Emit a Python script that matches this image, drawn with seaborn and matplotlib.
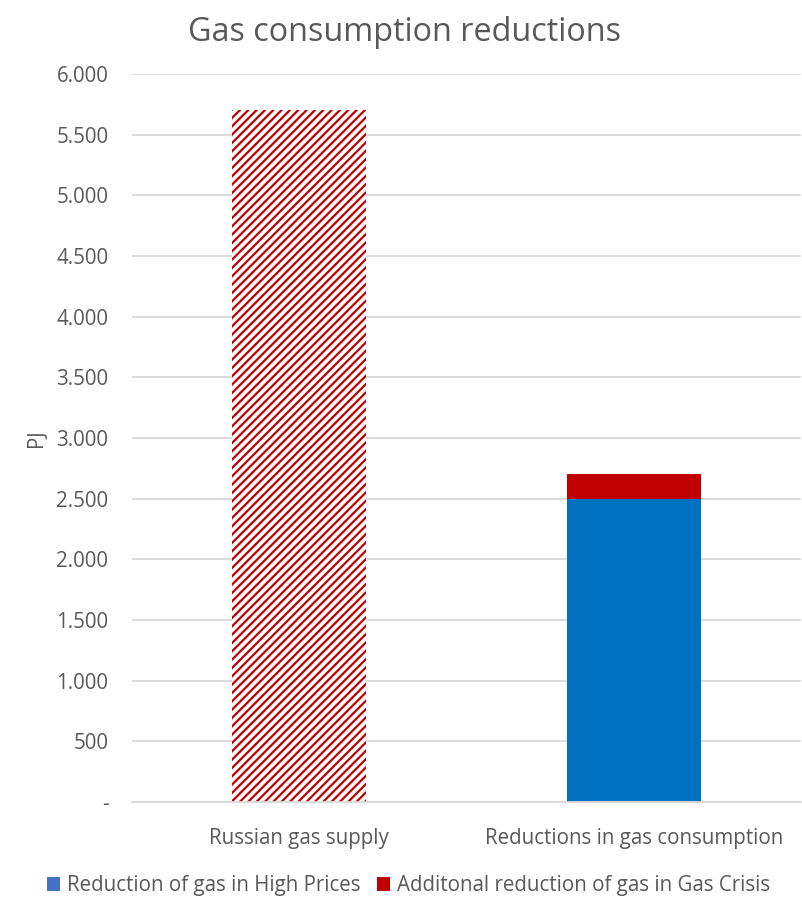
import matplotlib
matplotlib.use("Agg")
import matplotlib.pyplot as plt
from matplotlib.ticker import FuncFormatter
from matplotlib.patches import Patch
import seaborn as sns
import pandas as pd

categories = ["Russian gas supply", "Reductions in gas consumption"]
russian_supply = [5700, 0]
high_prices = [0, 2500]
gas_crisis = [0, 200]
legend_labels = ["Reduction of gas in High Prices",
                 "Additonal reduction of gas in Gas Crisis"]

BLUE = "#0070C0"
LEGEND_BLUE = "#4472C4"
RED = "#C00000"
TEXT = "#595959"
GRID = "#D9D9D9"

sns.set_theme(style="white")
plt.rcParams["font.family"] = ["Open Sans", "DejaVu Sans"]
plt.rcParams["hatch.color"] = RED
plt.rcParams["hatch.linewidth"] = 1.6

df = pd.DataFrame({
    "category": categories,
    "supply": russian_supply,
    "high": high_prices,
    "total": [h + c for h, c in zip(high_prices, gas_crisis)],
})

fig = plt.figure(figsize=(8.02, 9.0), dpi=100)
ax = fig.add_axes([0.1646, 0.1089, 0.8344, 0.8089])

# hatched supply bar
sns.barplot(data=df, x="category", y="supply", order=categories, ax=ax,
            color="white", edgecolor=RED, linewidth=0, hatch="////",
            width=0.4, saturation=1)
# stacked reductions: total in red, high-price part in blue on top
sns.barplot(data=df, x="category", y="total", order=categories, ax=ax,
            color=RED, linewidth=0, width=0.4, saturation=1)
sns.barplot(data=df, x="category", y="high", order=categories, ax=ax,
            color=BLUE, linewidth=0, width=0.4, saturation=1)

ax.set_ylim(0, 6000)
ax.set_xlim(-0.5, 1.5)
ax.set_yticks(range(0, 6001, 500))
ax.yaxis.set_major_formatter(FuncFormatter(
    lambda v, p: "-" if v == 0 else f"{int(v):,}".replace(",", ".")))
ax.yaxis.grid(True, color=GRID, linewidth=1.3)
ax.set_axisbelow(True)
for s in ["left", "right", "top"]:
    ax.spines[s].set_visible(False)
ax.spines["bottom"].set_color(GRID)
ax.spines["bottom"].set_linewidth(1.3)
ax.tick_params(axis="both", length=0, labelsize=14.8, colors=TEXT)
ax.tick_params(axis="y", pad=17)
ax.tick_params(axis="x", pad=19)
ax.set_xlabel("")
ax.set_ylabel("PJ", fontsize=14.8, color=TEXT, labelpad=7)

fig.text(0.504, 0.964, "Gas consumption reductions", ha="center", va="center",
         fontsize=23.3, color=TEXT)

handles = [Patch(facecolor=LEGEND_BLUE, edgecolor="none"),
           Patch(facecolor=RED, edgecolor="none")]
fig.legend(handles, legend_labels, loc="center", bbox_to_anchor=(0.509, 0.016),
           ncol=2, frameon=False, fontsize=14.8, handlelength=0.63,
           handleheight=0.63, handletextpad=0.34, columnspacing=0.8,
           labelcolor=TEXT, borderpad=0)

fig.savefig("out.png", dpi=100)
